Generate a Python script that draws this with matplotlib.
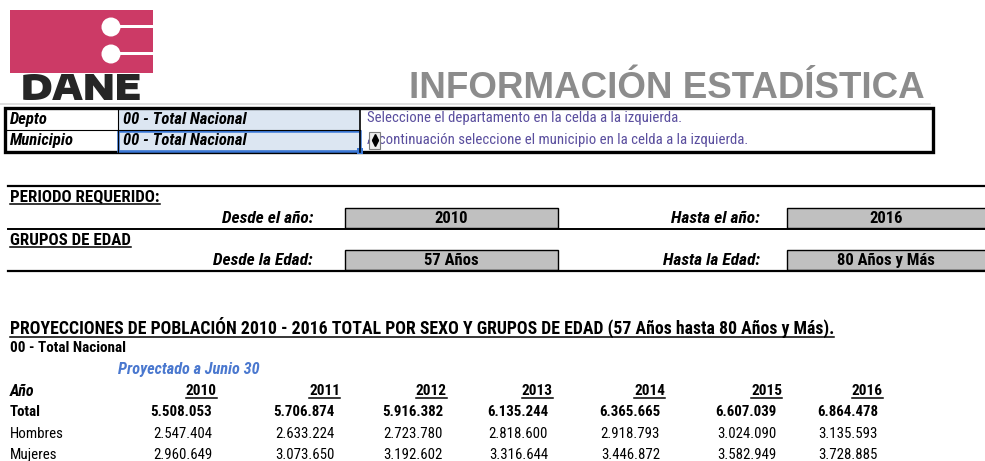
import matplotlib
matplotlib.use("Agg")
import matplotlib.pyplot as plt
from matplotlib.patches import Rectangle, Circle

# ---------------- data ----------------
years = [2010, 2011, 2012, 2013, 2014, 2015, 2016]
total = [5508053, 5706874, 5916382, 6135244, 6365665, 6607039, 6864478]
hombres = [2547404, 2633224, 2723780, 2818600, 2918793, 3024090, 3135593]
mujeres = [2960649, 3073650, 3192602, 3316644, 3446872, 3582949, 3728885]
row_labels = ["Total", "Hombres", "Mujeres"]
depto = "00 - Total Nacional"
municipio = "00 - Total Nacional"
desde_anio, hasta_anio = "2010", "2016"
desde_edad, hasta_edad = "57 Años", "80 Años y Más"

NARROW = ["Roboto Condensed", "Liberation Sans", "DejaVu Sans"]
ARIAL = ["Liberation Sans", "DejaVu Sans"]
WIDE = ["Encode Sans Expanded", "DejaVu Sans"]

W, H = 985, 461
fig = plt.figure(figsize=(W / 100, H / 100), dpi=100)
ax = fig.add_axes([0, 0, 1, 1])
ax.set_xlim(0, W)
ax.set_ylim(H, 0)
ax.axis("off")

def fmt(v):
    return f"{v:,}".replace(",", ".")

underlines = []

def txt(x, y, s, size=11, weight="normal", style="normal", color="black", ha="left",
        family=None, underline=False):
    t = ax.text(x, y, s, fontsize=size, fontweight=weight, fontstyle=style, color=color,
                ha=ha, va="center", family=family or NARROW)
    if underline:
        underlines.append(t)
    return t

# ---------------- logo ----------------
pink = "#CC3A66"
ax.add_patch(Rectangle((10, 10), 143, 63, facecolor=pink, edgecolor="none"))
for cy in (27, 54):
    ax.add_patch(Circle((111, cy), 9.5, facecolor="white", edgecolor="none"))
    ax.add_patch(Rectangle((111, cy - 2), 42, 3, facecolor="white", edgecolor="none"))
ax.text(81.5, 89.5, "DANE", fontsize=25.5, fontweight=900, color="#262626", ha="center",
        va="center", family=WIDE)

# title
ax.text(925, 88.5, "INFORMACIÓN ESTADÍSTICA", fontsize=26.5, fontweight="bold", color="#8C8C8C",
        ha="right", va="center", family=ARIAL)
ax.plot([0, 930], [104, 104], color="#D8D8D8", lw=1.2)

# ---------------- selection box ----------------
ax.add_patch(Rectangle((118, 109), 242, 42, facecolor="#DCE6F2", edgecolor="none"))
ax.plot([5, 360], [130, 130], color="black", lw=0.8)
ax.plot([118, 118], [108, 152], color="black", lw=0.8)
ax.plot([360, 360], [108, 152], color="black", lw=1.2)
ax.add_patch(Rectangle((5, 108), 928, 44, facecolor="none", edgecolor="black", lw=2.4))
ax.add_patch(Rectangle((118, 131), 242, 20, facecolor="none", edgecolor="#3A78D8", lw=1.8))
ax.add_patch(Rectangle((357, 148), 6, 6, facecolor="#3A78D8", edgecolor="none"))

txt(10, 119, "Depto", size=12, weight="bold", style="italic")
txt(10, 140, "Municipio", size=12, weight="bold", style="italic")
txt(123, 119, depto, size=12, weight="bold", style="italic")
txt(123, 140, municipio, size=12, weight="bold", style="italic")
note_col = "#5A4E9E"
txt(367, 118, "Seleccione el departamento en la celda a la izquierda.", size=10.6, color=note_col)
txt(367, 140, "A continuación seleccione el municipio en la celda a la izquierda.", size=10.6, color=note_col)
ax.add_patch(Rectangle((369, 132), 11, 17, facecolor="#EDEDED", edgecolor="#7F7F7F", lw=0.8, zorder=5))
ax.plot([374.5], [137.5], marker="^", color="black", ms=4, zorder=6)
ax.plot([374.5], [143.5], marker="v", color="black", ms=4, zorder=6)

# ---------------- periodo / grupos ----------------
for yy, lw in ((186, 1.6), (229, 1.4), (271, 1.6)):
    ax.plot([8, W], [yy, yy], color="black", lw=lw)

txt(10, 197, "PERIODO REQUERIDO:", size=12.2, weight="bold", underline=True)
txt(10, 240, "GRUPOS DE EDAD", size=12.2, weight="bold", underline=True)

gray = "#C0C0C0"
for (y0, lab_l, val_l, lab_r, val_r) in ((208, "Desde el año:", desde_anio, "Hasta el año:", hasta_anio),
                                         (250, "Desde la Edad:", desde_edad, "Hasta la Edad:", hasta_edad)):
    ax.add_patch(Rectangle((345, y0), 213, 20, facecolor=gray, edgecolor="black", lw=1.0))
    ax.add_patch(Rectangle((787, y0), 205, 20, facecolor=gray, edgecolor="black", lw=1.0))
    txt(313, y0 + 10.5, lab_l, size=12.5, weight="bold", style="italic", ha="right")
    txt(760, y0 + 10.5, lab_r, size=12.5, weight="bold", style="italic", ha="right")
    txt(451, y0 + 10.5, val_l, size=12, weight="bold", ha="center")
    txt(886, y0 + 10.5, val_r, size=12, weight="bold", ha="center")

# ---------------- projections table ----------------
txt(10, 327, f"PROYECCIONES DE POBLACIÓN {years[0]} - {years[-1]} TOTAL POR SEXO Y GRUPOS DE EDAD "
             f"({desde_edad} hasta {hasta_edad}).", size=12.75, weight="bold", underline=True)
txt(10, 348, depto, size=11, weight="bold")
txt(118, 369, "Proyectado a Junio 30", size=11.7, weight="bold", style="italic", color="#4A78CF")
txt(10, 391, "Año", size=11.5, weight="bold", style="italic")

year_right = [217, 340, 447, 553, 665, 782, 883]
val_right = [212, 335, 443, 548, 660, 776, 878]
for i, yr in enumerate(years):
    txt(year_right[i], 391, str(yr), size=11, weight="bold", ha="right", underline=True)

for r, (lab, vals) in enumerate(zip(row_labels, (total, hombres, mujeres))):
    y = 412 + 21.5 * r
    w = "bold" if r == 0 else "normal"
    txt(10, y, lab, size=10.8, weight=w)
    for i, v in enumerate(vals):
        txt(val_right[i], y, fmt(v), size=10.7, weight=w, ha="right")

# underline text
fig.canvas.draw()
rend = fig.canvas.get_renderer()
inv = ax.transData.inverted()
for t in underlines:
    bb = t.get_window_extent(rend)
    (x0, y0), (x1, y1) = inv.transform([[bb.x0, bb.y0], [bb.x1, bb.y1]])
    ax.plot([x0, x1], [y0 - 0.5, y0 - 0.5], color="black", lw=1.1)

fig.savefig("out.png", dpi=100)
